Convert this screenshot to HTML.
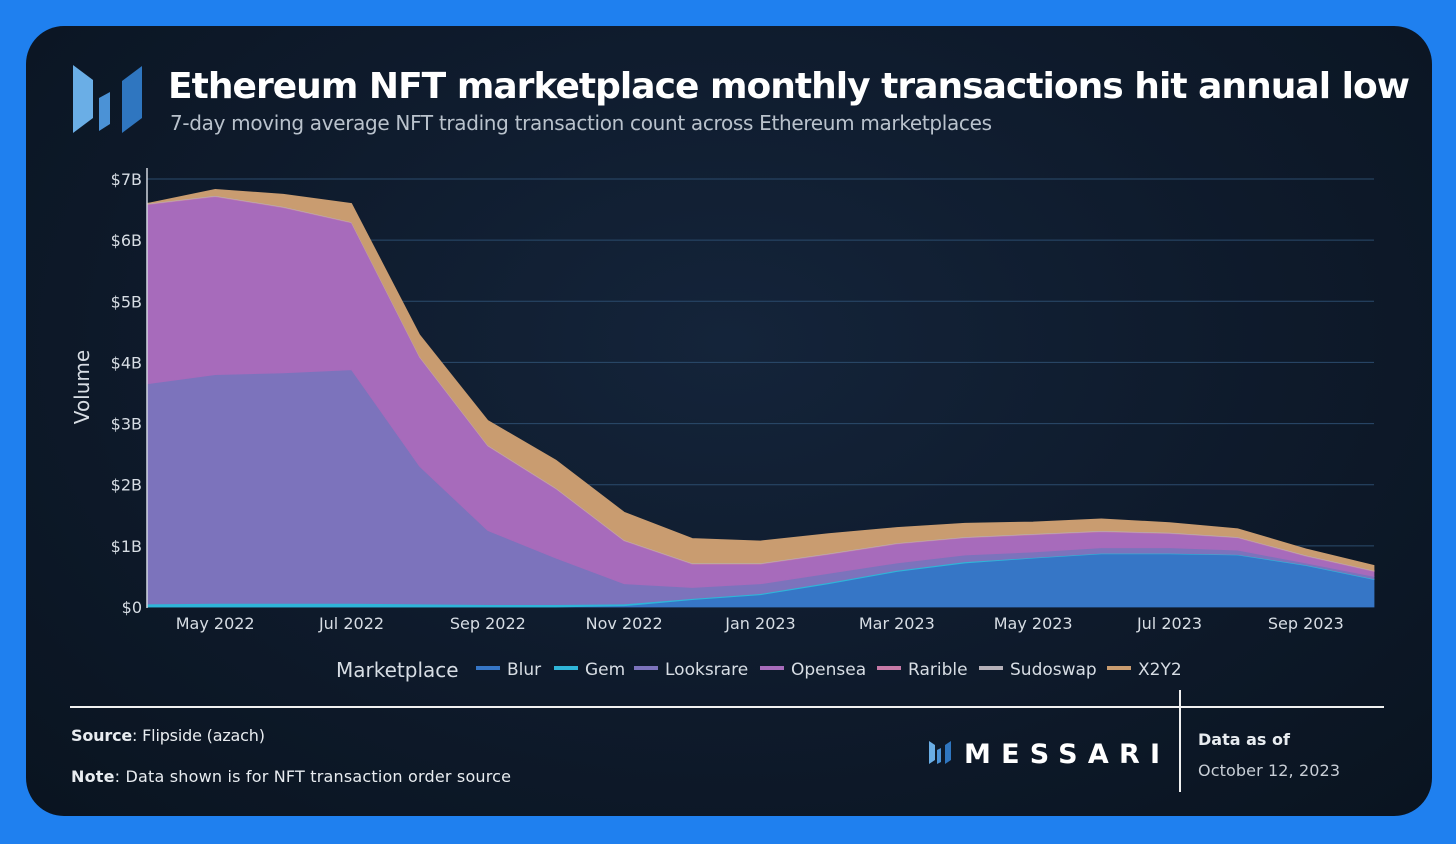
<!DOCTYPE html>
<html><head><meta charset="utf-8"><style>
html,body{margin:0;padding:0;}
body{width:1456px;height:844px;background:#1f80ef;position:relative;overflow:hidden;font-family:"Liberation Sans","DejaVu Sans",sans-serif;}
#panel{position:absolute;left:26px;top:26px;width:1406px;height:790px;border-radius:38px;background:radial-gradient(ellipse at 50% 40%,#14243a 0%,#0e1a2b 55%,#0a1420 100%);}
svg{position:absolute;left:0;top:0;}
</style></head><body>
<div id="panel"></div>
<svg id="chart" width="1456" height="844">
  <g>
    <polygon points="73,65 93,80 93,118 73,133" fill="#6aaee6"/>
    <polygon points="99,98 110,92 110,124 99,131" fill="#4b92d6"/>
    <polygon points="122,81 142,66 142,118 122,133" fill="#2f76c0"/>
  </g>
  <text x="168" y="98" fill="#ffffff" font-size="36" font-weight="bold" font-family="DejaVu Sans, sans-serif" textLength="1242">Ethereum NFT marketplace monthly transactions hit annual low</text>
  <text x="170" y="130" fill="#b9c2cc" font-size="20" font-family="DejaVu Sans, sans-serif" textLength="822">7-day moving average NFT trading transaction count across Ethereum marketplaces</text>
  <g id="grid"></g>
  <g id="areas"></g>
  <g id="axes"></g>
  <text transform="translate(89,387) rotate(-90)" text-anchor="middle" fill="#d7dde4" font-size="20" font-family="DejaVu Sans, sans-serif">Volume</text>
  <g id="legend" font-family="DejaVu Sans, sans-serif"></g>
  <line x1="70" y1="707" x2="1384" y2="707" stroke="#f0f0f0" stroke-width="2"/>
  <line x1="1180" y1="690" x2="1180" y2="792" stroke="#f0f0f0" stroke-width="2"/>
  <text x="71" y="741" fill="#e8ecf0" font-size="16" font-family="DejaVu Sans, sans-serif" textLength="194"><tspan font-weight="bold">Source</tspan>: Flipside (azach)</text>
  <text x="71" y="782" fill="#e8ecf0" font-size="16" font-family="DejaVu Sans, sans-serif" textLength="440"><tspan font-weight="bold">Note</tspan>: Data shown is for NFT transaction order source</text>
  <g>
    <polygon points="929,741 935,745 935,760 929,764" fill="#6aaee6"/>
    <polygon points="937,750 941,748 941,762 937,764" fill="#4b92d6"/>
    <polygon points="945,745 951,741 951,760 945,764" fill="#2f76c0"/>
    <text x="964" y="763" fill="#ffffff" font-size="27" font-weight="bold" font-family="DejaVu Sans, sans-serif" textLength="196">MESSARI</text>
  </g>
  <text x="1198" y="745" fill="#e8ecf0" font-size="16" font-weight="bold" font-family="DejaVu Sans, sans-serif">Data as of</text>
  <text x="1198" y="776" fill="#c8ced6" font-size="16" font-family="DejaVu Sans, sans-serif" textLength="142">October 12, 2023</text>
</svg>
<script>
const months = ["Apr 2022","May 2022","Jun 2022","Jul 2022","Aug 2022","Sep 2022","Oct 2022","Nov 2022","Dec 2022","Jan 2023","Feb 2023","Mar 2023","Apr 2023","May 2023","Jun 2023","Jul 2023","Aug 2023","Sep 2023","Oct 2023"];
const blur      = [0,0,0,0,0,0,0,0.02,0.12,0.2,0.38,0.58,0.72,0.8,0.87,0.87,0.85,0.68,0.45];
const gem       = [0.05,0.06,0.06,0.06,0.05,0.04,0.04,0.03,0.02,0.02,0.02,0.02,0.02,0.01,0.01,0.01,0.01,0.01,0.01];
const looksrare = [3.6,3.74,3.77,3.82,2.25,1.21,0.76,0.33,0.18,0.16,0.15,0.12,0.11,0.09,0.09,0.09,0.07,0.03,0.04];
const opensea   = [2.93,2.91,2.7,2.4,1.78,1.38,1.13,0.7,0.38,0.32,0.31,0.31,0.28,0.28,0.26,0.23,0.2,0.11,0.08];
const rarible   = [0.01,0.01,0.01,0.01,0.01,0.01,0.01,0.01,0.01,0.01,0.01,0.01,0.01,0.01,0.01,0.01,0.01,0.01,0.01];
const sudoswap  = [0.01,0.01,0.01,0.01,0.01,0.01,0.01,0.01,0.01,0.01,0.01,0.01,0.01,0.01,0.01,0.01,0.01,0.01,0.01];
const x2y2      = [0,0.1,0.2,0.3,0.35,0.4,0.45,0.45,0.4,0.36,0.32,0.25,0.22,0.19,0.19,0.16,0.13,0.1,0.08];
const seriesNames = ["Blur","Gem","Looksrare","Opensea","Rarible","Sudoswap","X2Y2"];
const yTicks = [0,1,2,3,4,5,6,7];
const yTickLabels = ["$0","$1B","$2B","$3B","$4B","$5B","$6B","$7B"];
const xTickIdx = [1,3,5,7,9,11,13,15,17];

const NS="http://www.w3.org/2000/svg";
const colors=["#3676c6","#2fb5d8","#7c73bc","#a76bbb","#c67aa7","#b5b0b8","#c99c70"];
const series=[blur,gem,looksrare,opensea,rarible,sudoswap,x2y2];
const X0=147,X1=1374,Y0=607,Y7=179;
const xs=i=>X0+(X1-X0)*i/(months.length-1);
const ys=v=>Y0-(Y0-Y7)*v/7;
function mk(tag,attrs,parent){const e=document.createElementNS(NS,tag);for(const k in attrs)e.setAttribute(k,attrs[k]);parent.appendChild(e);return e;}
const grid=document.getElementById('grid'),axes=document.getElementById('axes'),areas=document.getElementById('areas'),legend=document.getElementById('legend');
yTicks.forEach((t,i)=>{
  if(t>0){const l=mk('line',{x1:X0,x2:X1,y1:ys(t),y2:ys(t),stroke:'#2b4b6c','stroke-width':1},grid);
  
  }
  const tx=mk('text',{x:142,y:ys(t)+6,'text-anchor':'end',fill:'#d7dde4','font-size':16,'font-family':'DejaVu Sans, sans-serif'},axes);
  tx.textContent=yTickLabels[i];
  
  
});
xTickIdx.forEach(i=>{
  const tx=mk('text',{x:xs(i),y:629,'text-anchor':'middle',fill:'#d7dde4','font-size':16,'font-family':'DejaVu Sans, sans-serif'},axes);
  tx.textContent=months[i];
  
  
});
const yl=mk('line',{x1:X0,x2:X0,y1:168,y2:608,stroke:'#d0d6de','stroke-width':1.5},axes);


let base=months.map(()=>0);
series.forEach((s,k)=>{
  const top=base.map((b,i)=>b+s[i]);
  let d='M'+months.map((m,i)=>xs(i)+','+ys(top[i])).join(' L');
  for(let i=months.length-1;i>=0;i--)d+=' L'+xs(i)+','+ys(base[i]);
  d+=' Z';
  const p=mk('path',{d:d,fill:colors[k],stroke:colors[k],'stroke-width':0.8},areas);
  
  
  base=top;
});
const lt=mk('text',{x:336,y:677,fill:'#d7dde4','font-size':20},legend);
lt.textContent='Marketplace';


const lx=[476,554,634,760,877,979,1107];
seriesNames.forEach((n,k)=>{
  const g=mk('g',{},legend);
  
  
  mk('rect',{x:lx[k],y:666,width:24,height:4,fill:colors[k]},g);
  const t=mk('text',{x:lx[k]+31,y:675,fill:'#d7dde4','font-size':17},g);
  t.textContent=n;
});
</script>
</body></html>
